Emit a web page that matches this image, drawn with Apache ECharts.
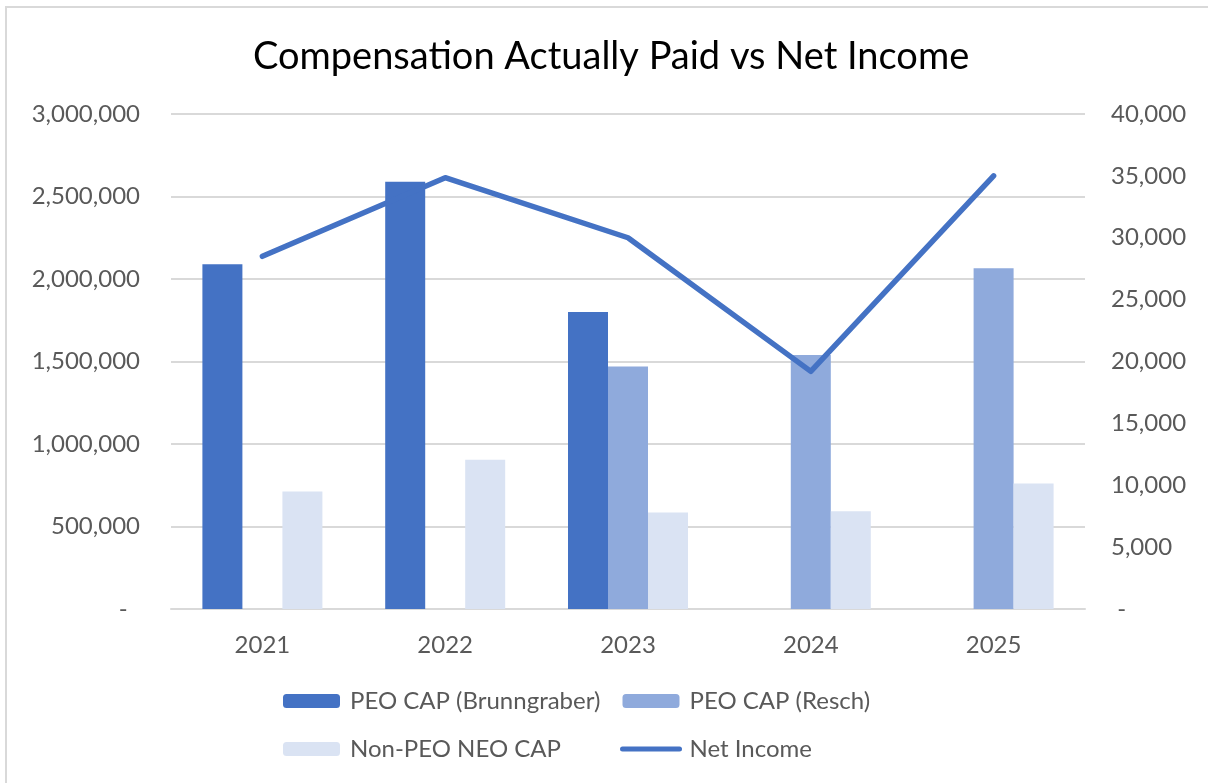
<!DOCTYPE html>
<html>
<head>
<meta charset="utf-8">
<script src="https://cdn.jsdelivr.net/npm/echarts@6/dist/echarts.min.js"></script>
<style>
  html, body { margin: 0; padding: 0; background: #fff; overflow: hidden; }
  #chart { width: 1208px; height: 783px; }
</style>
</head>
<body>
<div id="chart"></div>
<script>
  // data
  const years = ['2021', '2022', '2023', '2024', '2025'];
  const capBrunngraber = [2090000, 2590000, 1800000, null, null];
  const capResch = [null, null, 1470000, 1540000, 2065000];
  const capNonPeo = [712000, 905000, 585000, 592000, 760000];
  const netIncome = [28500, 34850, 30000, 19200, 35000];

  const leftTicks = { min: 0, max: 3000000, interval: 500000 };
  const rightTicks = { min: 0, max: 40000, interval: 5000 };

  const font = 'Lato, "Noto Sans", sans-serif';
  const grey = '#595959';
  const gridLine = '#D9D9D9';

  const fmtLeft = v => (v === 0 ? '-  ' : v.toLocaleString('en-US'));
  const fmtRight = v => (v === 0 ? ' -' : v.toLocaleString('en-US'));

  const chart = echarts.init(document.getElementById('chart'));

  const legendText = { fontFamily: font, fontSize: 24, lineHeight: 24, color: grey, padding: [0, 0, 0, 5] };

  const option = {
    backgroundColor: '#fff',
    textStyle: { fontFamily: font },
    animation: false,
    title: {
      text: 'Compensation Actually Paid vs Net Income',
      left: 248,
      top: 33,
      textStyle: { fontFamily: font, fontSize: 38, fontWeight: 'normal', color: '#000' }
    },
    graphic: [{
      type: 'rect',
      shape: { x: 6, y: 7, width: 1230, height: 800 },
      style: { fill: 'none', stroke: gridLine, lineWidth: 2 },
      silent: true
    }],
    legend: [
      {
        orient: 'vertical',
        left: 283,
        top: 689,
        padding: 0,
        itemWidth: 57,
        itemHeight: 14,
        itemGap: 24,
        data: ['PEO CAP (Brunngraber)', 'Non-PEO NEO CAP'],
        textStyle: legendText
      },
      {
        orient: 'vertical',
        left: 620,
        top: 689,
        padding: 0,
        itemWidth: 57,
        itemHeight: 14,
        itemGap: 24,
        data: [
          'PEO CAP (Resch)',
          { name: 'Net Income', itemStyle: { opacity: 0 }, lineStyle: { width: 5, cap: 'round' } }
        ],
        textStyle: legendText
      }
    ],
    grid: { left: 171, right: 123, top: 114, bottom: 174 },
    xAxis: {
      type: 'category',
      data: years,
      axisTick: { show: false },
      axisLine: { show: true, lineStyle: { color: gridLine, width: 2 } },
      axisLabel: { color: grey, fontSize: 24, fontFamily: font, margin: 24 }
    },
    yAxis: [
      {
        type: 'value',
        min: leftTicks.min,
        max: leftTicks.max,
        interval: leftTicks.interval,
        axisLine: { show: false },
        axisTick: { show: false },
        splitLine: { lineStyle: { color: gridLine, width: 2 } },
        axisLabel: { color: grey, fontSize: 24, fontFamily: font, margin: 31, formatter: fmtLeft }
      },
      {
        type: 'value',
        min: rightTicks.min,
        max: rightTicks.max,
        interval: rightTicks.interval,
        position: 'right',
        axisLine: { show: false },
        axisTick: { show: false },
        splitLine: { show: false },
        axisLabel: { color: grey, fontSize: 24, fontFamily: font, margin: 26, formatter: fmtRight }
      }
    ],
    series: [
      {
        name: 'PEO CAP (Brunngraber)',
        type: 'bar',
        data: capBrunngraber,
        barWidth: 40,
        barGap: '0%',
        itemStyle: { color: '#4472C4' }
      },
      {
        name: 'PEO CAP (Resch)',
        type: 'bar',
        data: capResch,
        barWidth: 40,
        barGap: '0%',
        itemStyle: { color: '#8FAADC' }
      },
      {
        name: 'Non-PEO NEO CAP',
        type: 'bar',
        data: capNonPeo,
        barWidth: 40,
        barGap: '0%',
        itemStyle: { color: '#DAE3F3' }
      },
      {
        name: 'Net Income',
        type: 'line',
        yAxisIndex: 1,
        data: netIncome,
        symbol: 'none',
        z: 5,
        lineStyle: { color: '#4472C4', width: 5.5, cap: 'round', join: 'round' },
        itemStyle: { color: '#4472C4' }
      }
    ]
  };

  chart.setOption(option);
</script>
</body>
</html>
